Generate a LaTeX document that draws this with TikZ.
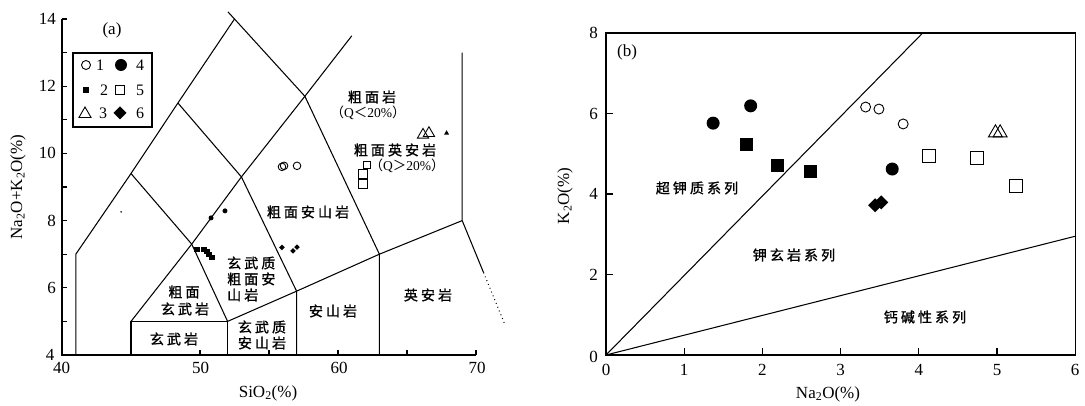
\documentclass[tikz,border=0pt]{standalone}
\usepackage{fontspec}
\setmainfont{Liberation Serif}
\newfontfamily\cjk[LetterSpace=22,FakeBold=1.2]{Noto Sans CJK SC}
\newfontfamily\cjkp{Noto Sans CJK SC}
\begin{document}
\begin{tikzpicture}[x=1pt,y=1pt,
  ln/.style={line width=1.05pt,black},
  ax/.style={line width=1.1pt,black},
  mk/.style={line width=0.9pt,black},
  cj/.style={font=\cjk\fontsize{14}{16}\selectfont,inner sep=0pt},
  cjs/.style={font=\fontsize{13.5}{15}\selectfont,inner sep=0pt},
  num/.style={font=\fontsize{17}{19}\selectfont,inner sep=0pt},
  leg/.style={font=\fontsize{16}{18}\selectfont,inner sep=0pt},
  pics/oc/.style={code={\draw[mk] (0pt,0pt) circle (#1);}},
  pics/fc/.style={code={\fill (0pt,0pt) circle (#1);}},
  pics/os/.style={code={\draw[mk] (-#1,-#1) rectangle (#1,#1);}},
  pics/fs/.style={code={\fill (-#1,-#1) rectangle (#1,#1);}},
  pics/ot/.style={code={\draw[mk,line join=miter] (90:#1) -- (210:#1) -- (330:#1) -- cycle;}},
  pics/ft/.style={code={\fill (90:#1) -- (210:#1) -- (330:#1) -- cycle;}},
  pics/fd/.style={code={\fill (90:#1) -- (0:#1) -- (270:#1) -- (180:#1) -- cycle;}}
]
\useasboundingbox (0,0) rectangle (1085,406);
\fill[white] (0,0) rectangle (1085,406);

% ================= plot (a) =================
\begin{scope}[x=13.8pt,y=33.6pt,shift={(-490pt,-83.4pt)}]
  \draw[ax] (40,14) -- (40,4) -- (70,4);
  \foreach \y in {5,...,14} \draw[ax] (40,\y) -- ++(5pt,0pt);
  \foreach \x in {45,50,...,70} \draw[ax] (\x,4) -- ++(0pt,5pt);
  % field boundaries
  \draw[ln] (41,4) -- (41,7) -- (45,9.4) -- (48.4,11.5) -- (52.5,14) -- (52.03,14.21);
  \draw[ln] (45,4) -- (45,5) -- (52,5) -- (52,4);
  \draw[ln] (45,5) -- (49.4,7.3) -- (53,9.3) -- (57.6,11.7) -- (61,13.5);
  \draw[ln] (45,9.4) -- (49.4,7.3) -- (52,5) -- (57,5.9) -- (63,7) -- (69,8) -- (69,13);
  \draw[ln] (48.4,11.5) -- (53,9.3) -- (57,5.9) -- (57,4);
  \draw[ln] (52.5,14) -- (57.6,11.7) -- (63,7) -- (63,4);
  \draw[ln] (69,8) -- (70.55,6.45);
  \draw[ln,dash pattern=on 0.9pt off 3.2pt] (70.55,6.45) -- (72.05,4.95);
  % data
  \pic at (50.80,8.08) {fc=2.5pt};
  \pic at (51.81,8.29) {fc=2.5pt};
  \pic at (44.28,8.26) {fc=0.9pt};
  \foreach \p in {(49.78,7.13),(50.29,7.15),(50.51,7.07),(50.65,6.98),(50.87,6.89)}
    \pic at \p {fs=2.6pt};
  \pic at (55.94,7.20) {fd=2.8pt};
  \pic at (56.74,7.10) {fd=2.8pt};
  \pic at (57.03,7.21) {fd=2.8pt};
  \pic at (55.94,9.60) {oc=3.8pt};
  \pic at (56.09,9.63) {oc=3.8pt};
  \pic at (57.03,9.63) {oc=3.8pt};
  \pic at (62.08,9.65) {os=3.3pt};
  \pic at (61.81,9.40) {os=4.5pt};
  \pic at (61.81,9.10) {os=4.5pt};
  \pic at (66.16,10.55) {ot=6.5pt};
  \pic at (66.59,10.60) {ot=6.5pt};
  \pic at (67.87,10.60) {ft=3pt};
\end{scope}

% axis labels (a)
\foreach \v/\py in {14/19,12/86.2,10/153.4,8/220.6,6/287.8}
  \node[num,anchor=east] (ya\v) at (56,406-\py) {\v};
\node[num] (ya4) at (50,51) {4};
\node[num] (xa40) at (61.5,38) {40};
\node[num] (xa50) at (200.5,38) {50};
\node[num] (xa60) at (339,38) {60};
\node[num] (xa70) at (477,38) {70};
\node[num,rotate=90] (ylabA) at (18,219) {Na\textsubscript{2}O+K\textsubscript{2}O(\%)};
\node[num] (xlabA) at (268,13) {SiO\textsubscript{2}(\%)};
\node[num] (tagA) at (112,376) {(a)};

% legend (a)
\draw[ax] (73,353) rectangle (152,279);
\pic at (86,341) {oc=4.5pt};
\node[leg] (l1) at (100,341) {1};
\pic at (121,341) {fc=6pt};
\node[leg] (l4) at (140,341) {4};
\pic at (86,316) {fs=3pt};
\node[leg] (l2) at (104,316) {2};
\pic at (120,316) {os=4.5pt};
\node[leg] (l5) at (140,316) {5};
\pic at (85,292) {ot=7pt};
\node[leg] (l3) at (103,293) {3};
\pic at (120,293) {fd=6.5pt};
\node[leg] (l6) at (140,293) {6};

% field names (a)
\node[cj] (n1) at (372,309) {粗面岩};
\node[cjs] (n1q) at (368,293) {{\cjkp （}Q{\cjkp ＜}20\%{\cjkp ）}};
\node[cj] (n2) at (395,256) {粗面英安岩};
\node[cjs] (n2q) at (407,240) {{\cjkp （}Q{\cjkp ＞}20\%{\cjkp ）}};
\node[cj] (n3) at (308,194) {粗面安山岩};
\node[cj,anchor=west] (n4a) at (227,143) {玄武质};
\node[cj,anchor=west] (n4b) at (227,127) {粗面安};
\node[cj,anchor=west] (n4c) at (227,111) {山岩};
\node[cj] (n5a) at (184,114) {粗面};
\node[cj] (n5b) at (185,97) {玄武岩};
\node[cj] (n6) at (174,67) {玄武岩};
\node[cj] (n7a) at (262,79) {玄武质};
\node[cj] (n7b) at (262,63) {安山岩};
\node[cj] (n8) at (333,95) {安山岩};
\node[cj] (n9) at (428,111) {英安岩};

% ================= plot (b) =================
\begin{scope}[x=78.2pt,y=40.25pt,shift={(606pt,51pt)}]
  \draw[ax] (0,0) rectangle (6,8);
  \foreach \x in {1,...,5} \draw[ax] (\x,0) -- ++(0pt,7pt);
  \foreach \y in {2,4,6} \draw[ax] (0,\y) -- ++(7pt,0pt);
  \draw[ln] (0,0) -- (4.05,8);
  \draw[ln] (0,0) -- (6,2.95);
  % data
  \pic at (1.37,5.76) {fc=6.5pt};
  \pic at (1.85,6.19) {fc=6.5pt};
  \pic at (3.66,4.62) {fc=6.5pt};
  \pic at (1.80,5.22) {fs=6.5pt};
  \pic at (2.19,4.70) {fs=6.5pt};
  \pic at (2.62,4.55) {fs=6.5pt};
  \pic at (3.44,3.72) {fd=7pt};
  \pic at (3.52,3.79) {fd=7pt};
  \pic at (3.32,6.16) {oc=5pt};
  \pic at (3.49,6.11) {oc=5pt};
  \pic at (3.80,5.74) {oc=5pt};
  \pic at (4.13,4.94) {os=6.5pt};
  \pic at (4.74,4.89) {os=6.5pt};
  \pic at (5.24,4.20) {os=6.5pt};
  \pic at (4.98,5.52) {ot=8pt};
  \pic at (5.04,5.52) {ot=8pt};
\end{scope}

\foreach \v/\py in {8/33,6/113.5,4/194,2/274.5}
  \node[num,anchor=east] (yb\v) at (598,406-\py) {\v};
\node[num,anchor=east] (yb0) at (598,49) {0};
\foreach \v in {0,...,6}
  \node[num] (xb\v) at (606+\v*78.2,36) {\v};
\node[num,rotate=90] (ylabB) at (565,210) {K\textsubscript{2}O(\%)};
\node[num] (xlabB) at (828,12) {Na\textsubscript{2}O(\%)};
\node[num] (tagB) at (627,354) {(b)};

\node[cj] (m1) at (697,218) {超钾质系列};
\node[cj] (m2) at (794,151) {钾玄岩系列};
\node[cj] (m3) at (925,89) {钙碱性系列};
\end{tikzpicture}
\end{document}
